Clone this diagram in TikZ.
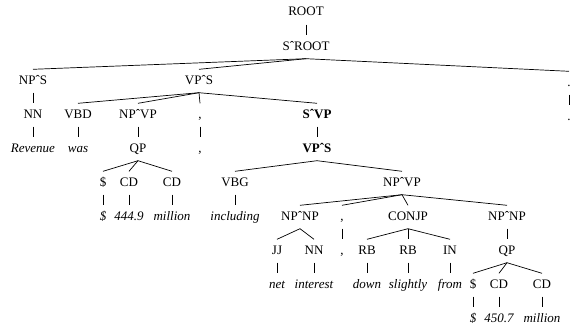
\documentclass[tikz,border=0pt]{standalone}
\usepackage{fontspec}
\setmainfont{Liberation Serif}
\usepackage{tikz}
\newcommand{\cx}{\symbol{"02C6}}

\begin{document}
\begin{tikzpicture}[x=1pt,y=-1pt,
  every node/.style={inner sep=0pt, minimum height=23pt, text height=9pt, text depth=3pt, font=\fontsize{13}{15}\selectfont\rmfamily},
  word/.style={font=\fontsize{13}{15}\selectfont\rmfamily\itshape},
  head/.style={font=\fontsize{13}{15}\selectfont\rmfamily\bfseries},
  branch/.style={line width=0.7pt}]
\useasboundingbox (0,0) rectangle (570,332);
% rows of the tree
\node (root) at (306,13) {ROOT}; \node (sroot) at (306,47) {S\cx ROOT};
\node (nps) at (33,81) {NP\cx S}; \node (vps) at (199,81) {VP\cx S}; \node (stop) at (569,83) {.};
\node (nn) at (33,115) {NN}; \node (vbd) at (78,115) {VBD}; \node (npvp) at (138,115) {NP\cx VP}; \node (comma) at (200,115) {,}; \node[head] (svp) at (317,115) {S\cx VP}; \node (stopw) at (569,117) {.};
\node[word] (revenue) at (33,149) {Revenue}; \node[word] (was) at (78,149) {was}; \node (qp) at (138,149) {QP}; \node (commaw) at (200,149) {,}; \node[head] (vpsb) at (317,149) {VP\cx S};
\node (dol) at (103,183) {\$}; \node (cd) at (129,183) {CD}; \node (cdb) at (172,183) {CD}; \node (vbg) at (235,183) {VBG}; \node (npvpb) at (402,183) {NP\cx VP};
\node[word] (dolw) at (103,217) {\$}; \node[word] (num) at (129,217) {444.9}; \node[word] (mil) at (172,217) {million}; \node[word] (including) at (235,217) {including};
\node (npnp) at (300,217) {NP\cx NP}; \node (commab) at (342,217) {,}; \node (conjp) at (408,217) {CONJP}; \node (npnpb) at (507,217) {NP\cx NP};
\node (jj) at (277,251) {JJ}; \node (nnb) at (314,251) {NN}; \node (commabw) at (342,251) {,}; \node (rb) at (367,251) {RB}; \node (rbb) at (408,251) {RB}; \node (in) at (450,251) {IN}; \node (qpb) at (507,251) {QP};
\node[word] (net) at (277,285) {net}; \node[word] (interest) at (314,285) {interest}; \node[word] (down) at (367,285) {down}; \node[word] (slightly) at (408,285) {slightly}; \node[word] (from) at (450,285) {from};
\node (dolb) at (473,285) {\$}; \node (cdc) at (499,285) {CD}; \node (cdd) at (542,285) {CD};
\node[word] (dolbw) at (473,319) {\$}; \node[word] (numb) at (499,319) {450.7}; \node[word] (milb) at (542,319) {million};
% branches
\foreach \a/\b in {root/sroot, sroot/nps, sroot/vps, sroot/stop, stop/stopw, nps/nn, nn/revenue,
  vps/vbd, vps/npvp, vps/comma, vps/svp, vbd/was, npvp/qp, comma/commaw, svp/vpsb,
  qp/dol, qp/cd, qp/cdb, dol/dolw, cd/num, cdb/mil, vpsb/vbg, vpsb/npvpb, vbg/including,
  npvpb/npnp, npvpb/commab, npvpb/conjp, npvpb/npnpb, npnp/jj, npnp/nnb, jj/net, nnb/interest,
  commab/commabw, conjp/rb, conjp/rbb, conjp/in, rb/down, rbb/slightly, in/from,
  npnpb/qpb, qpb/dolb, qpb/cdc, qpb/cdd, dolb/dolbw, cdc/numb, cdd/milb}
  \draw[branch] (\a.south) -- (\b.north);
\end{tikzpicture}
\end{document}
